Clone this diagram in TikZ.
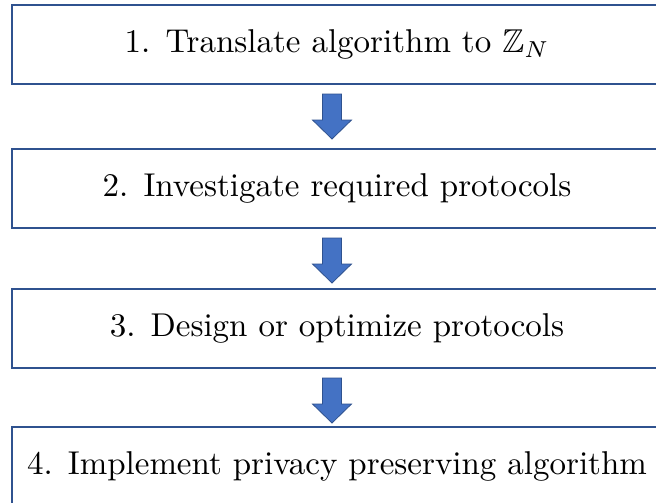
\documentclass[tikz,border=0pt]{standalone}
\usepackage{amssymb}
\usepackage{graphicx}
\usetikzlibrary{calc}
\definecolor{boxline}{HTML}{2F528F}
\definecolor{arrowfill}{HTML}{4472C4}
% step labels are set at 10pt and enlarged as a whole
\newcommand\steplabel[2]{\scalebox{3.3}{#1.\hspace{4.6pt}#2}}
\begin{document}
\begin{tikzpicture}[x=1pt,y=-1pt,
  stepbox/.style={draw=boxline, line width=1.5pt, minimum width=650pt,
    minimum height=79pt, inner sep=0pt, outer sep=0pt, anchor=north west},
  blockarrow/.style={fill=arrowfill, draw=boxline, line width=0.8pt, line join=miter}]
\fill[white] (0,0) rectangle (656,503);
\useasboundingbox (0,0) rectangle (656,503);
\clip (0,0) rectangle (656,503);

% the four steps
\node[stepbox] (b1) at (12,5)   {\steplabel{1}{Translate algorithm to $\mathbb{Z}_N$}};
\node[stepbox] (b2) at (12,149) {\steplabel{2}{Investigate required protocols}};
\node[stepbox] (b3) at (12,289) {\steplabel{3}{Design or optimize protocols}};
\node[stepbox] (b4) at (12,427) {\steplabel{4}{Implement privacy preserving algorithm}};

% block arrows between consecutive steps
\foreach \a/\b in {b1/b2, b2/b3, b3/b4}{
  \coordinate (top-\a) at ($(\a.south)+(-5,10)$);
  \draw[blockarrow] ($(top-\a)+(-9.5,0)$) -- ++(19,0) -- ++(0,26) -- ++(10,0)
    -- ($(top-\a)+(0,45)$) -- ++(-19.5,-19) -- ++(10,0) -- cycle;
}
\end{tikzpicture}
\end{document}
